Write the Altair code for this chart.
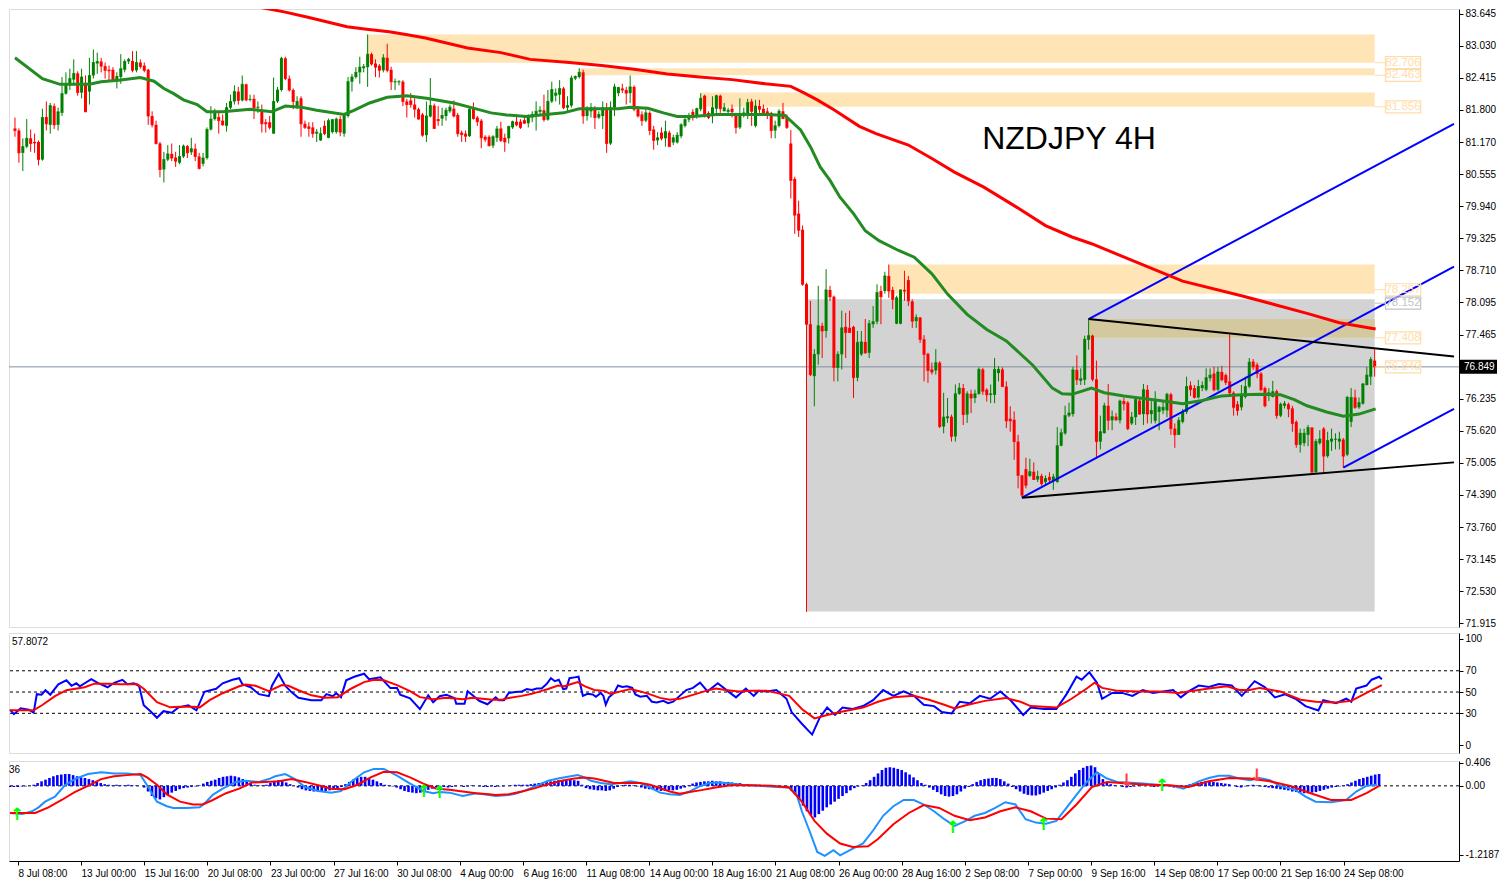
import json
import numpy as np
import pandas as pd
import altair as alt

# ---------------- candles (4H NZDJPY) ----------------
O = [81.44,81.40,80.97,81.09,81.25,81.18,81.18,80.84,81.66,81.51,
81.87,81.51,81.74,82.11,82.27,82.38,82.50,82.13,82.32,82.15,
82.46,82.69,82.73,82.64,82.57,82.57,82.38,82.43,82.57,82.73,
82.74,82.56,82.71,82.65,82.57,81.68,81.51,81.15,80.65,80.84,
80.95,80.88,80.78,80.90,81.10,80.98,81.05,80.90,80.76,80.87,
81.42,81.62,81.66,81.59,81.49,81.84,81.96,82.15,81.98,82.29,
81.99,82.01,81.84,81.76,81.56,81.56,81.34,81.96,82.18,82.79,
82.40,82.18,81.84,82.02,81.53,81.48,81.46,81.34,81.21,81.49,
81.26,81.37,81.37,81.62,81.34,81.68,82.34,82.43,82.52,82.60,
82.62,82.87,82.69,82.65,82.56,82.80,82.57,82.33,82.33,82.34,
81.96,81.98,81.90,81.81,81.71,81.31,81.67,81.88,81.62,81.63,
81.68,81.77,81.82,81.70,81.36,81.34,81.29,81.82,81.65,81.59,
81.28,81.28,81.11,81.26,81.44,81.26,81.25,81.46,81.57,81.57,
81.60,81.54,81.65,81.68,81.76,81.79,81.61,81.96,82.07,82.09,
82.21,81.84,81.88,82.40,82.43,82.52,81.68,81.77,81.84,81.65,
81.68,81.84,81.15,81.84,82.12,82.21,82.18,82.12,82.24,81.81,
81.71,81.59,81.74,81.42,81.21,81.36,81.25,81.36,81.17,81.17,
81.29,81.49,81.61,81.76,81.67,81.81,82.07,81.74,81.68,81.82,
82.07,81.77,81.76,81.82,81.71,81.46,81.68,81.71,81.96,81.49,
81.87,81.82,81.77,81.74,81.40,81.49,81.77,81.65,81.15,80.47,
79.80,79.49,78.44,77.67,76.67,77.09,77.64,77.54,78.33,78.20,
76.83,77.09,77.62,77.60,77.62,76.64,77.09,77.33,77.12,77.67,
77.72,78.31,78.31,78.60,78.33,77.68,77.68,78.33,78.52,78.11,
77.73,77.80,77.38,77.10,76.80,76.78,76.93,75.70,75.86,75.89,
75.51,76.33,76.44,75.93,76.33,76.25,76.33,76.80,76.41,76.31,
76.31,76.73,76.80,76.47,75.85,75.83,75.41,74.76,74.88,74.75,
74.83,74.68,74.75,74.63,74.73,74.65,74.63,75.33,75.57,75.91,
75.94,76.79,76.58,76.60,77.37,77.45,76.61,75.41,75.57,76.10,
75.82,75.89,75.82,76.19,76.16,75.76,75.88,76.20,75.94,76.41,
75.94,75.81,75.98,76.01,76.01,76.32,75.66,75.54,75.79,75.98,
76.49,76.44,76.26,76.44,76.41,76.63,76.72,76.41,76.75,76.69,
76.57,76.35,76.13,76.07,76.27,76.47,76.95,76.89,76.72,76.44,
76.29,76.27,76.38,75.91,76.10,76.13,76.05,75.79,75.35,75.38,
75.54,75.68,74.82,75.38,75.66,75.13,75.41,75.45,75.41,75.45,
75.16,75.79,76.26,76.07,76.14,76.50,76.66,76.97]

H = [81.65,81.44,81.25,81.62,81.42,81.34,81.21,81.82,81.96,81.93,
81.92,81.84,82.43,82.52,82.59,82.77,82.54,82.59,82.46,82.80,
82.96,82.90,82.80,82.71,82.65,82.62,82.52,82.87,82.77,82.80,
82.93,82.93,82.77,82.71,82.59,81.77,81.59,81.18,80.99,81.12,
81.15,80.99,81.12,81.13,81.12,81.26,81.15,80.97,80.97,81.46,
81.87,81.82,81.77,81.71,81.93,82.09,82.27,82.24,82.46,82.30,
82.09,82.09,81.96,81.90,81.62,81.68,82.42,82.24,82.82,82.82,
82.46,82.21,82.06,82.06,81.59,81.56,81.56,81.43,81.46,81.59,
81.63,81.62,81.65,81.68,81.74,82.43,82.49,82.62,82.82,82.68,
83.25,82.90,82.77,82.68,82.87,83.07,82.63,82.40,82.37,82.37,
82.01,82.12,82.02,81.84,81.74,81.96,82.41,81.92,81.87,81.84,
81.84,81.90,81.98,81.74,81.40,81.40,81.84,81.94,81.68,81.62,
81.31,81.31,81.31,81.49,81.57,81.34,81.49,81.59,81.71,81.62,
81.67,81.71,81.77,81.96,81.87,82.09,82.18,82.34,82.21,82.37,
82.24,82.06,82.46,82.46,82.60,82.57,81.87,81.93,81.87,81.77,
81.96,81.93,81.96,82.30,82.24,82.30,82.24,82.46,82.27,81.87,
81.77,81.81,81.77,81.49,81.37,81.46,81.59,81.40,81.32,81.37,
81.54,81.67,81.74,81.81,81.84,82.12,82.09,81.77,82.06,82.09,
82.09,81.93,81.84,81.90,81.74,82.02,81.84,82.01,82.01,81.99,
81.99,81.90,81.84,81.76,81.59,81.81,81.93,81.71,81.41,80.51,
80.05,79.57,78.47,78.12,77.19,78.41,77.70,78.73,78.41,78.22,
77.15,77.93,77.89,77.93,77.64,77.54,77.54,77.77,77.75,78.02,
78.44,78.41,78.68,78.82,78.39,78.22,78.34,78.70,78.60,78.15,
77.86,77.81,77.46,77.12,76.93,77.19,76.96,76.35,76.25,75.93,
76.51,76.54,76.52,76.38,76.41,76.41,76.84,76.83,76.44,76.51,
77.02,76.86,76.84,76.57,76.09,75.99,75.54,74.77,75.10,75.08,
75.01,74.85,74.79,74.76,74.82,74.79,75.69,75.66,76.10,76.16,
76.85,77.07,76.82,77.45,77.77,77.47,76.97,75.91,76.16,76.52,
76.01,75.96,76.22,76.26,76.19,75.98,76.26,76.27,76.52,76.50,
76.19,76.38,76.10,76.19,76.35,76.35,75.76,75.88,76.04,76.66,
76.57,76.50,76.60,76.57,76.82,76.82,76.85,76.85,76.87,76.72,
77.47,76.38,76.19,76.50,76.66,77.02,77.00,76.93,76.75,76.47,
76.44,76.58,76.41,76.16,76.19,76.16,76.10,75.82,75.66,75.66,
75.73,75.69,75.46,75.63,75.69,75.60,75.66,75.57,75.60,75.48,
76.29,76.44,76.41,76.26,76.54,76.85,77.04,77.19]

L = [81.28,80.78,80.62,81.06,80.99,80.97,80.73,80.82,81.40,81.34,
81.43,81.40,81.68,82.09,82.18,82.30,82.07,82.02,81.76,81.90,
82.40,82.49,82.52,82.40,82.37,82.34,82.21,82.30,82.52,82.68,
82.52,82.52,82.59,82.52,81.51,81.46,81.13,80.50,80.40,80.81,
80.81,80.70,80.75,80.87,80.87,80.93,80.81,80.65,80.71,80.84,
81.40,81.59,81.34,81.49,81.38,81.81,81.90,81.90,81.96,81.96,
81.96,81.62,81.74,81.36,81.36,81.42,81.34,81.93,82.15,82.37,
82.15,81.81,81.81,81.28,81.43,81.28,81.26,81.18,81.20,81.31,
81.25,81.34,81.34,81.29,81.28,81.65,82.15,82.40,82.30,82.52,
82.24,82.65,82.43,82.42,82.52,82.52,82.18,82.18,82.27,81.87,
81.65,81.84,81.65,81.61,81.28,81.18,81.65,81.43,81.49,81.49,
81.59,81.74,81.65,81.28,81.18,81.18,81.28,81.61,81.49,81.06,
81.18,81.09,81.06,81.18,81.18,80.99,81.15,81.43,81.48,81.43,
81.53,81.46,81.56,81.40,81.71,81.57,81.59,81.93,81.96,81.90,
81.81,81.77,81.84,82.37,82.40,81.53,81.59,81.65,81.43,81.62,
81.43,80.97,81.12,81.68,82.06,82.12,81.90,81.93,81.77,81.65,
81.49,81.56,81.31,81.03,81.12,81.21,81.09,81.09,81.12,81.15,
81.25,81.46,81.56,81.59,81.63,81.77,81.65,81.62,81.54,81.74,
81.74,81.77,81.71,81.65,81.34,81.43,81.65,81.62,81.49,81.46,
81.74,81.71,81.62,81.25,81.25,81.46,81.62,81.43,80.09,79.41,
79.35,78.41,72.13,76.67,76.09,76.89,77.02,77.41,78.12,76.57,
76.57,76.80,77.02,77.51,76.25,76.57,77.06,77.10,77.02,77.60,
77.67,77.67,78.26,78.18,77.96,77.67,77.67,78.12,78.02,77.60,
77.60,77.31,76.57,76.54,76.70,76.70,75.67,75.57,75.77,75.41,
75.41,76.31,75.73,75.77,75.96,76.15,76.31,76.31,76.18,76.15,
76.15,76.57,76.46,75.67,75.60,75.06,74.51,74.33,74.51,74.73,
74.67,74.63,74.56,74.57,74.61,74.48,74.62,75.32,75.54,75.88,
75.89,76.50,76.50,76.50,77.18,76.57,75.10,75.26,75.57,75.63,
75.63,75.81,75.76,76.01,75.63,75.73,75.73,75.93,75.73,75.76,
75.76,75.76,75.63,75.94,75.88,75.54,75.29,75.54,75.76,75.94,
76.29,76.24,76.24,76.38,76.38,76.57,76.38,76.38,76.57,76.50,
76.29,75.91,75.91,76.01,76.24,76.44,76.79,76.63,76.38,76.07,
76.19,76.26,75.85,75.88,76.05,75.88,75.60,75.29,75.20,75.32,
75.32,74.82,74.81,75.35,74.82,75.10,75.23,75.26,75.26,74.91,
75.13,75.69,76.04,76.04,76.12,76.49,76.50,76.66]

C = [81.40,80.97,81.09,81.25,81.15,81.16,80.84,81.65,81.53,81.88,
81.51,81.76,82.11,82.27,82.40,82.50,82.13,82.43,81.76,82.46,
82.71,82.73,82.64,82.56,82.55,82.38,82.44,82.59,82.73,82.77,
82.56,82.71,82.63,82.56,81.68,81.51,81.15,80.65,80.84,80.95,
80.87,80.81,80.90,81.10,80.97,81.05,80.90,80.67,80.87,81.42,
81.62,81.74,81.59,81.51,81.84,81.96,82.15,81.98,82.29,81.99,
82.00,81.84,81.85,81.53,81.53,81.46,81.96,82.18,82.79,82.40,
82.18,81.96,81.96,81.53,81.46,81.44,81.34,81.37,81.34,81.34,
81.59,81.61,81.62,81.37,81.71,82.34,82.43,82.52,82.62,82.63,
82.87,82.68,82.62,82.56,82.80,82.56,82.34,82.34,82.34,81.96,
81.90,81.90,81.81,81.62,81.31,81.68,81.88,81.44,81.59,81.69,
81.79,81.85,81.68,81.34,81.32,81.29,81.81,81.63,81.57,81.26,
81.23,81.11,81.28,81.43,81.21,81.18,81.48,81.57,81.51,81.46,
81.54,81.69,81.71,81.77,81.79,81.61,81.96,82.19,82.12,82.21,
81.84,81.88,82.41,82.44,82.52,81.68,81.81,81.84,81.65,81.71,
81.84,81.15,81.84,82.24,82.23,82.18,82.12,82.24,81.81,81.68,
81.59,81.74,81.40,81.21,81.26,81.25,81.38,81.09,81.26,81.31,
81.51,81.61,81.65,81.65,81.82,82.02,81.71,81.65,81.84,82.07,
81.82,81.84,81.79,81.76,81.46,81.71,81.74,81.94,81.77,81.87,
81.81,81.74,81.71,81.40,81.49,81.77,81.63,81.46,80.44,79.77,
79.48,78.44,77.67,76.70,77.09,77.64,77.54,78.33,78.20,76.84,
77.09,77.60,77.51,77.51,76.64,77.32,77.33,77.12,77.68,77.72,
78.28,78.20,78.60,78.31,78.15,78.18,78.33,78.31,78.12,77.73,
77.80,77.38,77.09,76.78,76.75,76.93,75.70,75.88,75.89,75.51,
76.33,76.44,75.93,76.33,76.25,76.33,76.80,76.38,76.31,76.33,
76.80,76.80,76.47,75.81,75.81,75.41,74.76,74.38,74.57,74.83,
74.68,74.74,74.60,74.70,74.67,74.73,75.33,75.58,75.91,75.96,
76.79,76.60,76.62,77.38,77.45,76.61,75.41,75.60,76.10,75.82,
75.89,75.83,76.19,76.14,75.66,75.88,76.22,75.94,76.41,75.94,
76.01,76.20,76.07,76.07,76.32,75.66,75.54,75.82,75.98,76.47,
76.41,76.26,76.47,76.49,76.64,76.69,76.41,76.75,76.60,76.55,
76.35,76.07,76.01,76.29,76.47,76.94,76.85,76.72,76.41,76.10,
76.35,76.37,75.91,76.13,76.14,76.04,75.76,75.35,75.57,75.57,
75.68,74.82,75.41,75.46,75.13,75.43,75.46,75.46,75.46,75.13,
76.26,76.26,76.07,76.16,76.52,76.69,76.99,76.85]

# ---------------- moving averages ----------------
ma_fast_i = [0,7,11.5,19,22,26.5,32,35.5,38,40.5,43,46.5,49,53,60,65.5,69,73,77,84,
86.5,90.5,95,100,105,112,116.5,121.5,125.5,130.5,135.5,140,144,154,157,161.5,165.5,169,173,179,
192,196.5,200.5,203,205.5,208,210.5,214,217,220.5,225.5,229.5,234,238,243,248,253,259.75,264.75,267.25,
269.75,274.75,278,283,288,293,298,303,308,313,318,323,326.5,329.75,334.75,339,343,347.25]
ma_fast_v = [82.80,82.40,82.29,82.29,82.34,82.37,82.42,82.35,82.21,82.11,81.99,81.90,81.76,81.76,81.81,81.76,81.87,81.85,81.79,81.71,
81.79,81.93,82.04,82.07,82.02,81.93,81.84,81.74,81.70,81.67,81.71,81.74,81.82,81.82,81.85,81.83,81.74,81.67,81.67,81.71,
81.71,81.69,81.41,81.09,80.70,80.44,80.12,79.80,79.47,79.28,79.09,78.96,78.64,78.25,77.86,77.57,77.35,76.88,76.44,76.33,
76.32,76.44,76.35,76.29,76.24,76.19,76.14,76.20,76.29,76.31,76.32,76.31,76.22,76.10,75.98,75.90,75.94,76.04]
ma_slow_i = [62,69,74.75,79.75,84.75,89.75,95.5,100.5,104.75,115.5,124,131.5,141.5,149.75,158,166.5,174.75,183,191.5,198,
201.5,204.75,209,215.5,219.75,228,234,239.75,247.25,255.5,263,269.75,274.75,298,313,329.75,338,347.25]
ma_slow_v = [83.78,83.68,83.58,83.49,83.40,83.35,83.30,83.24,83.18,82.99,82.90,82.77,82.71,82.65,82.58,82.49,82.43,82.38,82.30,82.25,
82.12,81.99,81.80,81.48,81.34,81.12,80.86,80.60,80.31,79.93,79.57,79.35,79.22,78.50,78.22,77.88,77.70,77.58]

# ---------------- zones, box, trend lines ----------------
zone_start = [202, 90, 144, 175, 223, 274]
zone_end = [347, 347, 347, 347, 347, 347]
zone_low = [72.14, 82.706, 82.463, 81.856, 78.257, 77.408]
zone_high = [78.152, 83.25, 82.60, 82.13, 78.82, 77.77]
zone_kind = ["box", "zone", "zone", "zone", "zone", "zone"]

label_value = [82.706, 82.463, 81.856, 78.257, 78.152, 77.408, 76.849]
label_kind = ["zone", "zone", "zone", "zone", "box", "zone", "zone"]

tl_x1 = [257, 274, 339, 274, 257]
tl_p1 = [74.33, 77.77, 74.91, 77.77, 74.33]
tl_x2 = [367.25, 367.25, 367.25, 367.25, 367.25]
tl_p2 = [78.78, 81.53, 76.04, 77.05, 75.01]
tl_kind = ["channel", "channel", "channel", "trend", "trend"]

current_price = 76.849
price_ticks = [83.645, 83.030, 82.415, 81.800, 81.170, 80.555, 79.940, 79.325, 78.710, 78.095,
               77.465, 76.235, 75.620, 75.005, 74.390, 73.760, 73.145, 72.530, 71.915]

# ---------------- RSI ----------------
rsi_i = [0,1,2.7,4.75,6,6.8,8,9,10.2,12.25,14.3,15.6,16.8,17.7,20.6,22.25,24.75,26.4,28.5,29.75,
31.4,32.7,33.9,35.6,37.25,38.9,41,42.7,45.2,47.25,49.3,52.25,53.9,56.4,58.1,58.9,61,63.1,65.6,66.4,
68.1,69.75,71.4,73.1,76.4,78.9,80.2,81.8,82.7,83.9,85.2,87.25,89.75,91,93.9,96.4,98.1,98.9,101.4,103.9,
106,107.25,108.9,110.6,112.7,113.1,115.2,116,117.25,118.9,121,123.1,123.9,125.2,126.4,128.1,129.75,131,132.25,133.5,
134.75,136,137.1,138.1,139.1,140.2,141,141.8,143.1,144.1,145.2,146.4,147.7,148.5,149.75,150.4,151,151.8,153.1,154.1,
155.2,156.4,157.7,158.5,159.75,161.4,162.7,163.9,165.6,166.8,168.1,169.75,171.4,173.1,174.9,176.8,179.4,182,184,186.5,
188.5,189.75,191.7,194.25,196.8,198.1,200.7,203.3,205.2,207.1,209.1,211,213.6,216.2,218.75,221.3,223.9,226.5,229.1,231.6,
234.2,236.2,238.7,240.7,243.25,245.8,248.4,251,253.6,256.8,258.7,262,265.2,267.75,270.3,271.6,273.55,275.5,276.8,279.35,
281.9,284.5,287.1,289.7,292.25,294.8,296.75,298.7,301.3,303.85,306.4,309.65,312.2,315.45,318,320.6,323.2,325.8,328.35,331.6,
332.85,336.1,338.65,339.95,341.2,343.8,345.1,347,347.7]
rsi_v = [33.4,29.2,34.8,33.4,30.6,48.0,47.5,51.7,47.5,57.3,61.0,55.9,58.2,55.4,62.1,58.7,54.5,58.7,61.5,57.3,
58.2,55.9,37.6,32.0,25.8,32.0,30.6,35.6,37.6,32.8,50.3,53.1,58.2,61.5,63.0,57.3,54.5,48.0,46.1,55.9,
67.2,55.9,49.7,44.6,42.4,42.4,48.0,46.1,48.9,45.2,61.0,64.4,67.2,62.1,63.8,53.7,53.7,47.5,44.1,33.9,
46.9,40.4,46.1,47.5,44.1,39.0,39.0,50.8,46.9,41.8,38.5,45.0,42.3,42.3,49.2,50.0,50.6,52.8,51.9,53.3,
53.3,57.5,63.0,60.2,61.6,52.8,53.3,63.0,63.8,64.4,46.4,48.3,47.8,45.6,49.2,46.4,38.1,45.0,49.2,56.1,
54.7,55.5,53.9,47.8,45.6,46.4,40.9,40.1,41.7,39.5,40.9,46.4,51.9,53.9,58.8,50.6,58.3,50.6,45.0,53.3,
46.4,51.1,50.6,51.9,43.7,31.2,20.2,10.0,25.7,35.4,28.5,35.4,34.0,36.8,42.3,51.9,46.4,50.6,46.4,38.1,
36.8,31.2,29.9,40.9,39.5,46.4,43.7,50.6,42.3,28.5,35.4,34.0,34.0,47.8,64.4,61.6,68.5,58.8,43.7,49.2,
49.2,46.4,51.9,49.2,50.6,51.9,45.0,50.6,56.1,54.7,57.5,56.1,46.4,60.2,54.7,45.0,47.8,43.7,36.8,32.6,
42.3,39.5,43.7,40.9,53.3,56.1,61.6,64.4,62.1]
rsi_sig_i = [0,3.1,6,8.1,11.4,14.3,18.9,21.4,24.75,28.1,32.25,33.9,37.25,40.6,43.1,46.4,48.1,50.6,53.9,58.1,
59.75,62.25,65.6,68.9,70.6,73.1,76.4,79.75,83.1,86.4,89.75,92.25,94.75,98.1,101.4,103.9,107.25,110.6,114.75,117.25,
119.75,122.25,124.75,126.4,129.75,132.25,134.75,136.4,138.9,140.6,142.25,143.9,145.6,148.1,150.6,152.25,154.75,157.25,159.75,162.25,
164.75,167.25,169.75,172.25,174.75,176.4,178.9,181.4,184.75,187.8,191.7,194.25,197.5,200.7,203.9,207.1,211,216.2,220,223.9,
229.1,232.9,236.8,239.4,242,247.1,252.3,256.1,258.7,265.2,269.05,272.9,274.9,276.8,280.7,285.85,291,296.2,298.7,303.85,
308.4,311.6,314.2,316.75,321.9,327.1,330.95,336.1,339.95,343.8,347.7]
rsi_sig_v = [32.8,32.8,32.8,37.6,46.1,51.7,54.5,57.9,57.9,57.3,57.3,53.1,40.4,35.6,36.2,36.2,35.6,42.4,48.9,55.4,
57.0,55.9,50.8,56.5,55.9,51.7,46.9,44.6,45.2,53.1,59.3,61.5,61.0,56.5,50.8,45.2,43.2,44.6,43.2,44.6,
43.6,42.8,42.8,44.5,46.4,48.3,51.1,52.8,56.1,55.5,57.5,59.4,55.5,51.9,51.1,48.3,50.6,52.8,50.6,47.8,
44.5,42.8,43.6,46.4,49.2,51.1,53.3,51.9,50.6,51.1,51.1,49.2,46.4,34.0,25.2,28.5,31.8,35.4,40.9,45.0,
46.4,42.8,38.1,34.5,37.3,41.7,44.5,40.9,36.8,35.4,43.7,53.3,58.8,53.9,51.1,50.6,50.6,49.2,50.6,53.3,
55.5,51.9,51.9,53.9,50.6,42.8,40.9,40.1,41.7,49.2,56.6]
rsi_levels = [30, 50, 70]

# ---------------- MACD ----------------
macd_i = [0,3.1,5.6,7.25,8.9,11.4,13.9,16.4,19.75,23.1,26.4,29.75,33.1,34.75,37.25,39.75,41.4,44.75,48.1,49.75,
51.4,53.9,57.25,59.75,63.1,65.6,67.25,69.75,72.25,74.75,78.1,81.4,83.9,86.4,89.75,92.25,94.75,98.1,101.4,104.75,
107.25,108.9,111.4,114.75,118.1,121.4,123.1,126.4,128.1,130.6,133.1,136.4,138.9,141.4,143.9,145.6,147.25,149.75,152.25,154.75,
157.25,159.75,162.25,164.75,167.25,169.75,172.25,174.75,177.25,179.75,182.65,186.5,190.4,194.25,197.5,199.4,200.7,202.6,204.6,206.5,
208.7,210.4,213.6,216.2,218.75,221.3,223.9,226.5,229.1,231.6,234.2,236.8,239.4,241.95,244.5,247.1,249.7,252.25,254.85,257.4,
260,262.6,265.2,267.75,270.3,272.9,275.5,278.05,280.6,283.2,287.1,290.95,294.8,297.4,301.3,303.85,306.4,309,311.6,314.2,
316.75,319.3,321.9,325.8,328.35,330.9,334.8,338.65,341.2,343.8,346.4]
macd_v = [-0.48,-0.50,-0.45,-0.38,-0.28,-0.19,0.01,0.12,0.21,0.24,0.22,0.22,0.19,0.01,-0.28,-0.36,-0.39,-0.39,-0.38,-0.28,
-0.16,-0.05,0.07,0.09,0.07,0.12,0.17,0.21,0.12,-0.02,-0.09,-0.12,-0.09,0.07,0.24,0.30,0.30,0.18,0.04,-0.09,
-0.13,-0.11,-0.12,-0.18,-0.13,-0.16,-0.18,-0.16,-0.14,-0.08,-0.01,0.09,0.13,0.16,0.19,0.15,0.09,0.05,0.03,0.05,
0.08,0.05,-0.03,-0.12,-0.15,-0.16,-0.10,-0.01,0.05,0.06,0.04,0.01,0.0,-0.02,-0.03,-0.16,-0.45,-0.79,-1.17,-1.24,
-1.14,-1.23,-1.11,-1.02,-0.79,-0.53,-0.36,-0.25,-0.25,-0.33,-0.45,-0.59,-0.71,-0.63,-0.53,-0.48,-0.39,-0.29,-0.33,-0.59,
-0.65,-0.67,-0.62,-0.39,-0.16,0.07,0.24,0.13,0.07,0.06,0.04,0.02,0.0,-0.05,0.08,0.14,0.18,0.18,0.13,0.10,
0.14,0.10,0.0,-0.07,-0.19,-0.28,-0.29,-0.25,-0.10,0.0,0.02]
sig_i = [0,6.4,9.75,13.1,16.4,19.75,23.1,26.4,29.75,33.1,34.75,37.25,39.75,43.1,46.4,48.9,51.4,54.75,58.1,61.4,
64.75,68.1,71.4,74.75,78.1,81.4,84.75,88.1,91.4,94.75,98.1,101.4,104.75,108.1,111.4,114.75,118.1,121.4,123.1,126.4,
129.75,133.1,136.4,139.75,143.1,145.6,148.1,150.6,153.1,156.4,159.75,162.25,164.75,167.25,169.75,172.25,174.9,178.8,182.65,187.8,
193,197.5,200.7,203.9,207.1,210.4,213.6,217.5,220,223.9,227.8,231.6,235.5,239.4,243.25,247.1,251,254.85,258.7,262.6,
266.5,270.3,274.2,278.05,283.2,288.4,293.5,298.7,303.85,309,314.2,319.3,324.5,329.65,334.8,339.95,343.8,347]
sig_v = [-0.48,-0.48,-0.38,-0.25,-0.11,0.0,0.12,0.17,0.19,0.21,0.15,0.02,-0.15,-0.28,-0.33,-0.33,-0.25,-0.13,-0.05,0.06,
0.07,0.08,0.12,0.07,0.01,-0.05,-0.06,0.02,0.15,0.25,0.24,0.15,0.04,-0.05,-0.07,-0.10,-0.13,-0.15,-0.16,-0.15,
-0.10,-0.04,0.03,0.09,0.13,0.15,0.13,0.09,0.05,0.05,0.05,0.02,-0.04,-0.10,-0.14,-0.11,-0.08,-0.03,0.01,0.01,
0.0,-0.03,-0.28,-0.62,-0.85,-1.02,-1.08,-1.07,-0.94,-0.68,-0.48,-0.34,-0.39,-0.53,-0.61,-0.56,-0.45,-0.38,-0.45,-0.58,
-0.59,-0.33,-0.02,0.07,0.04,0.02,0.01,-0.02,0.08,0.14,0.13,0.08,0.0,-0.13,-0.25,-0.25,-0.13,0.0]
hist = [-0.02,-0.02,-0.02,-0.01,-0.01,0.00,
0.02,0.05,0.08,0.11,0.14,0.17,0.19,0.20,0.21,0.21,
0.19,0.17,0.15,0.14,0.12,0.10,0.08,0.05,0.03,0.02,
0.01,0.02,0.01,0.01,0.02,0.01,0.01,0.00,-0.03,-0.10,
-0.18,-0.22,-0.24,-0.20,-0.16,-0.12,-0.09,-0.06,-0.04,-0.03,
-0.02,-0.01,0.01,0.04,0.07,0.09,0.11,0.14,0.16,0.17,
0.18,0.17,0.15,0.12,0.09,0.06,0.02,0.01,0.01,0.02,
0.05,0.08,0.10,0.09,0.06,0.03,0.00,-0.03,-0.06,-0.08,
-0.09,-0.10,-0.10,-0.10,-0.09,-0.08,-0.07,-0.05,-0.02,0.03,
0.07,0.11,0.14,0.16,0.16,0.14,0.11,0.08,0.05,0.02,
0.01,-0.01,-0.03,-0.06,-0.09,-0.11,-0.12,-0.13,-0.12,-0.10,
-0.07,-0.05,-0.03,-0.02,-0.02,-0.03,-0.02,-0.01,0.00,-0.02,
-0.01,0.01,0.00,-0.01,-0.02,-0.02,-0.01,-0.02,-0.01,-0.01,
0.00,0.01,0.02,0.02,0.02,0.02,0.03,0.04,0.05,0.06,
0.07,0.08,0.09,0.10,0.10,0.10,0.11,0.10,0.09,0.02,
-0.04,-0.06,-0.07,-0.08,-0.08,-0.09,-0.08,-0.05,-0.02,0.01,
0.02,0.02,0.01,-0.01,-0.03,-0.05,-0.06,-0.07,-0.08,-0.09,
-0.09,-0.08,-0.08,-0.07,-0.05,-0.03,0.01,0.04,0.06,0.07,
0.08,0.08,0.09,0.08,0.08,0.07,0.07,0.06,0.05,0.05,
0.03,0.03,0.02,0.02,0.02,0.01,0.01,0.01,0.00,0.00,
-0.01,-0.03,-0.08,-0.15,-0.25,-0.35,-0.45,-0.52,-0.56,-0.50,
-0.44,-0.38,-0.33,-0.28,-0.23,-0.18,-0.13,-0.08,-0.04,-0.01,
0.01,0.05,0.10,0.16,0.22,0.28,0.32,0.33,0.32,0.30,
0.28,0.24,0.20,0.15,0.10,0.05,0.02,-0.03,-0.07,-0.11,
-0.15,-0.18,-0.19,-0.18,-0.15,-0.10,-0.05,-0.02,0.03,0.07,
0.10,0.12,0.13,0.14,0.14,0.12,0.08,0.04,-0.02,-0.06,
-0.10,-0.14,-0.16,-0.17,-0.17,-0.15,-0.12,-0.09,-0.06,-0.03,
0.02,0.06,0.10,0.16,0.22,0.28,0.32,0.35,0.36,0.33,
0.22,0.12,0.06,0.03,0.01,0.00,-0.02,-0.03,-0.02,-0.01,
0.01,0.01,0.00,-0.01,-0.02,-0.01,0.00,0.00,-0.01,-0.03,
-0.04,-0.02,0.01,0.03,0.05,0.06,0.07,0.08,0.08,0.07,
0.06,0.05,0.04,0.03,0.00,-0.02,-0.03,-0.01,0.01,0.02,
0.01,-0.01,-0.02,-0.03,-0.04,-0.05,-0.06,-0.07,-0.08,-0.10,
-0.11,-0.12,-0.13,-0.13,-0.12,-0.11,-0.09,-0.07,-0.05,-0.03,
-0.02,-0.01,0.01,0.03,0.06,0.09,0.12,0.14,0.16,0.18,
0.20,0.21]
arrow_i = [1.8, 104.9, 108.9, 239, 262, 292, 283, 316]
arrow_v = [-0.51, -0.11, -0.13, -0.75, -0.70, -0.01, 0.08, 0.18]
arrow_dir = ["up", "up", "up", "up", "up", "up", "down", "down"]

x_label_pos = [2, 18, 34, 50, 66, 82, 98, 114, 130, 146, 162, 178, 194, 210, 226, 242, 258, 274, 290, 306, 322, 338]
x_labels = ["8 Jul 08:00", "13 Jul 00:00", "15 Jul 16:00", "20 Jul 08:00", "23 Jul 00:00", "27 Jul 16:00",
            "30 Jul 08:00", "4 Aug 00:00", "6 Aug 16:00", "11 Aug 08:00", "14 Aug 00:00", "18 Aug 16:00",
            "21 Aug 08:00", "26 Aug 00:00", "28 Aug 16:00", "2 Sep 08:00", "7 Sep 00:00", "9 Sep 16:00",
            "14 Sep 08:00", "17 Sep 00:00", "21 Sep 16:00", "24 Sep 08:00"]

# ---------------- layout constants ----------------
W = 1450
HM, HR, HD = 618, 120, 100
X_DOM = [-0.25, 367.25]
FONT = "Liberation Sans"
# vertical pixel nudges for the two right-hand labels that sit close together
LABEL_NUDGE = {78.257: -4, 78.152: 4}

n = min(len(O), len(H), len(L), len(C))
cdf = pd.DataFrame({"i": np.arange(n), "o": O[:n], "h": H[:n], "l": L[:n], "c": C[:n]})
cdf["h"] = cdf[["h", "o", "c"]].max(axis=1)
cdf["l"] = cdf[["l", "o", "c"]].min(axis=1)
cdf["dir"] = np.where(cdf["c"] >= cdf["o"], "up", "down")
up = cdf[cdf["dir"] == "up"]
dn = cdf[cdf["dir"] == "down"]

xs = alt.Scale(domain=X_DOM, nice=False, zero=False)
X = alt.X("i:Q", scale=xs, axis=None)
ys = alt.Scale(domain=[71.84, 83.74], nice=False, zero=False)
yax = alt.Axis(orient="right", values=price_ticks, format=".3f", title=None, grid=False,
               tickSize=4, labelPadding=2, labelFontSize=10, labelFont=FONT, labelColor="black",
               domainColor="black", tickColor="black", labelOverlap=False, labelFlush=False)

GREEN, RED = "#008000", "#FF0000"
ZONE, BOX, OVERLAP = "#FFE4B5", "#D3D3D3", "#D3C89E"


def zone_frame(kind):
    ks = [k for k in range(len(zone_kind)) if zone_kind[k] == kind]
    return pd.DataFrame({"x1": [zone_start[k] for k in ks], "x2": [zone_end[k] for k in ks],
                         "lo": [zone_low[k] for k in ks], "hi": [zone_high[k] for k in ks]})


box_f = zone_frame("box")
zone_f = zone_frame("zone")
# parts of the supply zones that lie inside the grey box are drawn in the mixed colour
ov = []
for _, z in zone_f.iterrows():
    for _, b in box_f.iterrows():
        x1, x2 = max(z.x1, b.x1), min(z.x2, b.x2)
        lo, hi = max(z.lo, b.lo), min(z.hi, b.hi)
        if x2 > x1 and hi > lo:
            ov.append({"x1": x1, "x2": x2, "lo": lo, "hi": hi})
ov_f = pd.DataFrame(ov, columns=["x1", "x2", "lo", "hi"])


def rects(df, color):
    return alt.Chart(df).mark_rect(color=color, clip=True).encode(
        x=alt.X("x1:Q", scale=xs, axis=None), x2="x2:Q",
        y=alt.Y("lo:Q", scale=ys, axis=yax), y2="hi:Q")


graybox = rects(box_f, BOX)
zones = rects(zone_f, ZONE)
overlap = rects(ov_f, OVERLAP)

cpdf = pd.DataFrame({"p": [current_price], "t": [f"{current_price:.3f}"]})
cpline = alt.Chart(cpdf).mark_rule(color="#8090A0", strokeWidth=1).encode(y=alt.Y("p:Q", scale=ys, axis=yax))


def candle_layers(df, color):
    w = alt.Chart(df).mark_rule(strokeWidth=1, color=color, clip=True).encode(
        x=X, y=alt.Y("l:Q", scale=ys, axis=yax), y2="h:Q")
    b = alt.Chart(df).mark_bar(size=3, color=color, clip=True).encode(
        x=X, y=alt.Y("o:Q", scale=ys, axis=yax), y2="c:Q")
    t = alt.Chart(df).mark_tick(orient="horizontal", size=3, thickness=1, color=color, clip=True).encode(
        x=X, y=alt.Y("c:Q", scale=ys, axis=yax))
    return [w, b, t]


mfast = alt.Chart(pd.DataFrame({"i": ma_fast_i, "v": ma_fast_v})).mark_line(
    color="#228B22", strokeWidth=3, clip=True).encode(x=X, y=alt.Y("v:Q", scale=ys, axis=yax))
mslow = alt.Chart(pd.DataFrame({"i": ma_slow_i, "v": ma_slow_v})).mark_line(
    color="#FF0000", strokeWidth=3, clip=True).encode(x=X, y=alt.Y("v:Q", scale=ys, axis=yax))

tdf = pd.DataFrame({"x1": tl_x1, "p1": tl_p1, "x2": tl_x2, "p2": tl_p2, "kind": tl_kind})


def tl_layer(kind, color):
    return alt.Chart(tdf[tdf["kind"] == kind]).mark_rule(strokeWidth=2, color=color, clip=True).encode(
        x=alt.X("x1:Q", scale=xs, axis=None), x2="x2:Q",
        y=alt.Y("p1:Q", scale=ys, axis=yax), y2="p2:Q")


def label_layers():
    out = []
    for v, kind in zip(label_value, label_kind):
        color = "#FFDDAA" if kind == "zone" else "#C4C4C4"
        dy = LABEL_NUDGE.get(v, 0)
        d = pd.DataFrame({"v": [v], "t": [f"{v:.3f}"], "c0": [347.0], "c1": [349.75],
                          "b1": [358.75], "m": [354.25]})
        out.append(alt.Chart(d).mark_rule(strokeWidth=1, color=color, yOffset=dy, y2Offset=dy).encode(
            x=alt.X("c0:Q", scale=xs, axis=None), x2="c1:Q", y=alt.Y("v:Q", scale=ys, axis=yax), y2="v:Q"))
        out.append(alt.Chart(d).mark_rect(fillOpacity=0, stroke=color, strokeWidth=1.2,
                                          yOffset=dy - 6, y2Offset=dy + 6).encode(
            x=alt.X("c1:Q", scale=xs, axis=None), x2="b1:Q", y=alt.Y("v:Q", scale=ys, axis=yax), y2="v:Q"))
        out.append(alt.Chart(d).mark_text(font=FONT, fontSize=11.5, align="center", baseline="middle",
                                          color=color, dy=dy).encode(
            x=alt.X("m:Q", scale=xs, axis=None), y=alt.Y("v:Q", scale=ys, axis=yax), text="t:N"))
    return out


title = alt.Chart(pd.DataFrame({"t": ["NZDJPY 4H"]})).mark_text(
    font=FONT, fontSize=32, color="black", align="center", baseline="middle").encode(
    x=alt.value(1060), y=alt.value(130), text="t:N")

cpbox = alt.Chart(cpdf).mark_rect(color="black", yOffset=-7, y2Offset=7).encode(
    x=alt.value(W + 1), x2=alt.value(W + 38), y=alt.Y("p:Q", scale=ys, axis=yax), y2="p:Q")
cptext = alt.Chart(cpdf).mark_text(font=FONT, fontSize=10, color="white", align="left", baseline="middle").encode(
    x=alt.value(W + 5), y=alt.Y("p:Q", scale=ys, axis=yax), text="t:N")

main_layers = [graybox, zones, overlap, cpline] + candle_layers(up, GREEN) + candle_layers(dn, RED) + \
    [tl_layer("channel", "#0000FF"), tl_layer("trend", "#000000"), mfast, mslow] + \
    label_layers() + [title, cpbox, cptext]
main = alt.layer(*main_layers).properties(width=W, height=HM)

# ---------------- RSI panel ----------------
rys = alt.Scale(domain=[-7.3, 105.5], nice=False, zero=False)
rax = alt.Axis(orient="right", values=[0, 30, 50, 70, 100], format="d", title=None, grid=False,
               tickSize=4, labelPadding=2, labelFontSize=10, labelFont=FONT, labelColor="black",
               domainColor="black", tickColor="black", labelOverlap=False, labelFlush=False)
rlev = alt.Chart(pd.DataFrame({"lv": rsi_levels})).mark_rule(color="black", strokeDash=[3, 3], strokeWidth=1).encode(
    y=alt.Y("lv:Q", scale=rys, axis=rax))
rline = alt.Chart(pd.DataFrame({"i": rsi_i, "v": rsi_v})).mark_line(color="#0000FF", strokeWidth=2, clip=True).encode(
    x=X, y=alt.Y("v:Q", scale=rys, axis=rax))
rsig = alt.Chart(pd.DataFrame({"i": rsi_sig_i, "v": rsi_sig_v})).mark_line(color="#FF0000", strokeWidth=2, clip=True).encode(
    x=X, y=alt.Y("v:Q", scale=rys, axis=rax))
rtxt = alt.Chart(pd.DataFrame({"t": ["57.8072"]})).mark_text(font=FONT, fontSize=10, align="left", baseline="middle",
                                                            color="black").encode(
    x=alt.value(3), y=alt.value(9), text="t:N")
rsi = alt.layer(rlev, rline, rsig, rtxt).properties(width=W, height=HR)

# ---------------- MACD panel ----------------
mys = alt.Scale(domain=[-1.33, 0.44], nice=False, zero=False)
mlab_expr = json.dumps(x_labels) + "[round((datum.value - 2) / 16)]"
xax = alt.Axis(values=x_label_pos, labelExpr=mlab_expr, labelAlign="left", labelPadding=3, tickSize=4,
               labelFontSize=10, labelFont=FONT, labelColor="black", domainColor="black", tickColor="black",
               title=None, grid=False, labelOverlap=False, labelFlush=False)
max_ = alt.Axis(orient="right", values=[0.406, 0, -1.2187],
                labelExpr="datum.value == 0 ? '0.00' : toString(datum.value)", title=None, grid=False,
                tickSize=4, labelPadding=2, labelFontSize=10, labelFont=FONT, labelColor="black",
                domainColor="black", tickColor="black", labelOverlap=False, labelFlush=False)
XM = alt.X("i:Q", scale=xs, axis=xax)
hdf = pd.DataFrame({"i": np.arange(len(hist)), "v": hist, "z": 0.0})
hbars = alt.Chart(hdf).mark_rule(color="#0000FF", strokeWidth=2.6, clip=True).encode(
    x=XM, y=alt.Y("z:Q", scale=mys, axis=max_), y2="v:Q")
zero = alt.Chart(pd.DataFrame({"z": [0.0]})).mark_rule(color="black", strokeDash=[3, 3], strokeWidth=1).encode(
    y=alt.Y("z:Q", scale=mys, axis=max_))
mline = alt.Chart(pd.DataFrame({"i": macd_i, "v": macd_v})).mark_line(color="#1E90FF", strokeWidth=2, clip=True).encode(
    x=XM, y=alt.Y("v:Q", scale=mys, axis=max_))
msig = alt.Chart(pd.DataFrame({"i": sig_i, "v": sig_v})).mark_line(color="#FF0000", strokeWidth=2, clip=True).encode(
    x=XM, y=alt.Y("v:Q", scale=mys, axis=max_))
adf = pd.DataFrame({"i": arrow_i, "v": arrow_v, "d": arrow_dir})
adf["t"] = np.where(adf["d"] == "up", "\u2191", "\u2193")
arr_up = alt.Chart(adf[adf["d"] == "up"]).mark_text(font="DejaVu Sans", fontSize=17, fontWeight="bold",
                                                    baseline="middle", color="#00FF00").encode(
    x=XM, y=alt.Y("v:Q", scale=mys, axis=max_), text="t:N")
arr_dn = alt.Chart(adf[adf["d"] == "down"]).mark_text(font="DejaVu Sans", fontSize=17, fontWeight="bold",
                                                      baseline="middle", color="#FF4040").encode(
    x=XM, y=alt.Y("v:Q", scale=mys, axis=max_), text="t:N")
mtxt = alt.Chart(pd.DataFrame({"t": ["36"]})).mark_text(font=FONT, fontSize=10, align="left", baseline="middle",
                                                       color="black").encode(
    x=alt.value(0), y=alt.value(9), text="t:N")
macd = alt.layer(zero, hbars, mline, msig, arr_up, arr_dn, mtxt).properties(width=W, height=HD)

chart = alt.vconcat(main, rsi, macd, spacing=3, padding=0).configure_view(
    stroke="black", strokeWidth=1).configure(background="white")

chart.save("out.html", embed_options={"renderer": "svg", "actions": False})
